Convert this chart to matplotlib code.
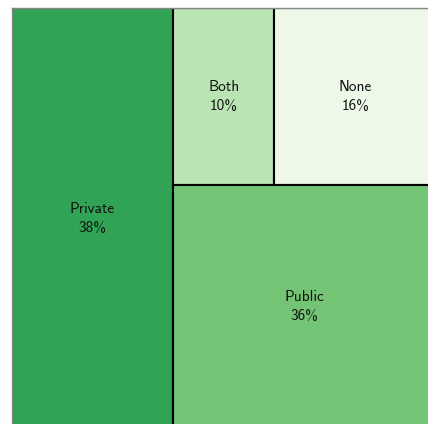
import matplotlib.pyplot as plt
from matplotlib.patches import Rectangle

etiquetas = ["Private", "Public", "Both", "None"]
valores = [38, 36, 10, 16]
colores = ["#31a354", "#74c476", "#bae4b3", "#edf8e9"]

total = sum(valores)

fig = plt.figure(figsize=(4.28, 4.24), dpi=100)
ax = fig.add_axes([12 / 428, -5 / 424, 424 / 428, 421 / 424])
ax.set_xlim(0, 1)
ax.set_ylim(1, 0)  # y crece hacia abajo


def caja(x, y, w, h, i):
    ax.add_patch(Rectangle((x, y), w, h, facecolor=colores[i],
                           edgecolor="black", linewidth=1.5))
    ax.text(x + w / 2, y + h / 2, f"{etiquetas[i]}\n{valores[i]}%",
            ha="center", va="center", fontsize=11, family="cmss10",
            linespacing=1.45, color="#111111")


# columna izquierda: Private a toda altura
w0 = valores[0] / total
caja(0, 0, w0, 1, 0)

# resto: fila de arriba (Both, None) y Public abajo
resto = total - valores[0]
ancho = 1 - w0
h_arriba = (valores[2] + valores[3]) / resto
x = w0
for i in (2, 3):
    w = ancho * valores[i] / (valores[2] + valores[3])
    caja(x, 0, w, h_arriba, i)
    x += w
caja(w0, h_arriba, ancho, 1 - h_arriba, 1)

ax.set_xticks([])
ax.set_yticks([])
for s in ax.spines.values():
    s.set_color("#888888")
    s.set_linewidth(1)

fig.savefig("out.png", dpi=100)
